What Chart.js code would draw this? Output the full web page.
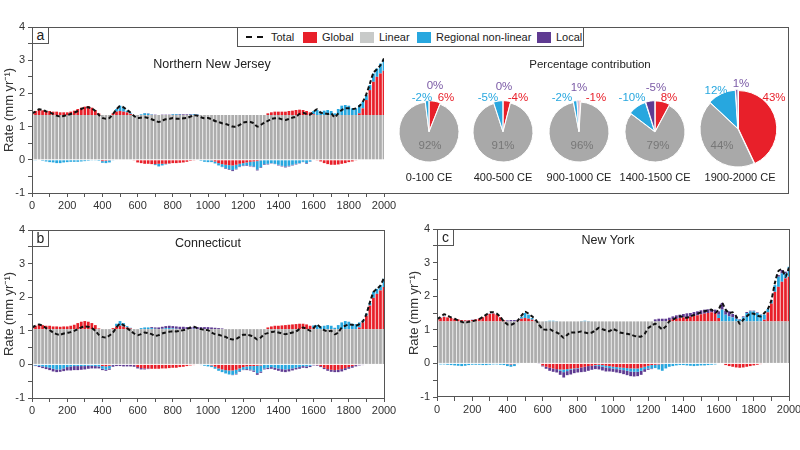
<!DOCTYPE html>
<html><head><meta charset="utf-8">
<script src="https://cdn.jsdelivr.net/npm/chart.js@4.4.1/dist/chart.umd.min.js"></script>
<style>
body{margin:0;background:#fff;width:800px;height:450px;overflow:hidden;position:relative;font-family:"Liberation Sans",Arial,sans-serif;color:#222}
canvas{position:absolute}
.frame{position:absolute;border:1px solid #555;box-sizing:border-box;pointer-events:none}
.tag{position:absolute;border:1px solid #555;background:#fff;width:17px;height:17px;box-sizing:border-box;font-size:14px;line-height:14px;text-align:center}
.t{position:absolute;transform:translate(-50%,-50%);white-space:nowrap}
.sq{position:absolute;width:14px;height:11px;top:4px}
.lt{position:absolute;top:3px;font-size:11px;line-height:13px}
</style></head><body>

<canvas id="ca" width="400" height="222" style="left:0;top:0"></canvas>
<canvas id="cb" width="400" height="230" style="left:0;top:200px"></canvas>
<canvas id="cc" width="400" height="230" style="left:405px;top:200px"></canvas>

<div class="frame" style="left:32px;top:27px;width:757px;height:167px"></div>
<div class="frame" style="left:32px;top:230px;width:353px;height:169px"></div>
<div class="frame" style="left:437px;top:229px;width:353px;height:168px"></div>

<div class="tag" style="left:32px;top:27px">a</div>
<div class="tag" style="left:32px;top:230px">b</div>
<div class="tag" style="left:437px;top:229px">c</div>

<div style="position:absolute;left:237px;top:27px;width:347px;height:20px;border:1px solid #555;box-sizing:border-box;background:#fff">
  <div style="position:absolute;left:8px;top:8px;width:17px;border-top:2px dashed #111"></div>
  <div class="lt" style="left:33px">Total</div>
  <div class="sq" style="left:65px;background:#e8202a"></div>
  <div class="lt" style="left:84px">Global</div>
  <div class="sq" style="left:122px;background:#c8cac9"></div>
  <div class="lt" style="left:141px">Linear</div>
  <div class="sq" style="left:179px;background:#27a7df"></div>
  <div class="lt" style="left:198px">Regional non-linear</div>
  <div class="sq" style="left:299px;background:#5f3b92"></div>
  <div class="lt" style="left:318px">Local</div>
</div>

<div class="t" style="left:212px;top:64px;font-size:12.5px">Northern New Jersey</div>
<div class="t" style="left:208px;top:243px;font-size:12.5px">Connecticut</div>
<div class="t" style="left:608px;top:240px;font-size:12.5px">New York</div>
<div class="t" style="left:590px;top:64px;font-size:11.5px">Percentage contribution</div>

<div id="pies"></div>

<script>
// ---------- DATA ----------
const years = [0,20,40,60,80,100,120,140,160,180,200,220,240,260,280,300,320,340,360,380,400,420,440,460,480,500,520,540,560,580,600,620,640,660,680,700,720,740,760,780,800,820,840,860,880,900,920,940,960,980,1000,1020,1040,1060,1080,1100,1120,1140,1160,1180,1200,1220,1240,1260,1280,1300,1320,1340,1360,1380,1400,1420,1440,1460,1480,1500,1520,1540,1560,1580,1600,1620,1640,1660,1680,1700,1720,1740,1760,1780,1800,1820,1840,1860,1880,1900,1920,1940,1960,1980,2000];

// Panel a: Northern New Jersey
const linearNNJ = 1.35;
const globalNNJ = [0.10,0.12,0.15,0.14,0.12,0.12,0.10,0.10,0.08,0.08,
  0.08,0.10,0.13,0.18,0.22,0.25,0.27,0.22,0.15,0.05,
  -0.04,-0.03,-0.02,0.05,0.10,0.12,0.10,0.08,0.03,-0.02,
  -0.08,-0.10,-0.12,-0.12,-0.13,-0.13,-0.12,-0.12,-0.12,-0.11,
  -0.10,-0.10,-0.09,-0.08,-0.06,-0.03,-0.01,0.00,0.00,0.00,
  0.00,-0.02,-0.05,-0.10,-0.13,-0.15,-0.16,-0.17,-0.15,-0.12,
  -0.10,-0.08,-0.06,-0.05,-0.04,-0.02,0.00,0.05,0.08,0.10,
  0.10,0.10,0.10,0.12,0.13,0.15,0.16,0.15,0.12,0.08,
  0.02,-0.02,-0.05,-0.10,-0.13,-0.15,-0.15,-0.14,-0.12,-0.10,
  -0.07,-0.05,-0.02,0.05,0.20,0.45,0.75,1.00,1.15,1.25,1.33];
const regionalNNJ = [-0.02,-0.02,0.00,-0.03,-0.05,-0.07,-0.08,-0.10,-0.10,-0.08,
  -0.07,-0.06,-0.06,-0.06,-0.05,-0.04,-0.03,-0.02,-0.02,-0.03,
  -0.05,-0.07,-0.06,-0.02,0.08,0.16,0.12,0.05,0.02,0.00,
  0.00,0.02,0.05,0.04,0.01,-0.03,-0.08,-0.05,-0.02,-0.01,
  0.02,0.02,0.01,0.00,0.00,0.01,0.02,0.01,-0.03,-0.06,
  -0.07,-0.05,-0.06,-0.07,-0.08,-0.10,-0.12,-0.14,-0.12,-0.08,
  -0.07,-0.08,-0.12,-0.15,-0.25,-0.20,-0.13,-0.12,-0.10,-0.12,
  -0.15,-0.18,-0.20,-0.18,-0.15,-0.12,-0.10,-0.06,-0.10,-0.05,
  0.10,0.15,0.10,0.13,0.15,0.12,0.05,0.18,0.28,0.30,
  0.28,0.20,0.20,0.25,0.20,0.15,0.15,0.25,0.25,0.30,0.35];
const localNNJ = [0,0,0,0,0,0,0,0,0,0,
  0,0,0,0,0,0,0,0,0,0,
  0,0,0,0,0,0,0,0,0,0,
  0,0,0.01,0.01,0.01,0.01,0,0.01,0.01,0.01,
  0.01,0.01,0.02,0.02,0.02,0.02,0.01,0.01,0,0,
  0,0,0,0,-0.01,-0.02,-0.02,-0.03,-0.02,-0.02,
  -0.02,-0.02,-0.02,-0.02,-0.03,-0.02,-0.02,-0.02,-0.01,-0.01,
  -0.02,-0.02,-0.03,-0.02,-0.02,-0.02,-0.01,-0.01,-0.02,-0.01,
  0,0,0,0,0,0,0,0,0,0,
  0,0,0,0,0,0,0,0,0,0,0];
const totalNNJ = [1.40,1.45,1.52,1.50,1.46,1.43,1.38,1.33,1.30,1.32,
  1.35,1.38,1.42,1.47,1.53,1.57,1.58,1.54,1.47,1.35,
  1.26,1.24,1.26,1.38,1.52,1.62,1.58,1.50,1.42,1.32,
  1.26,1.27,1.28,1.26,1.22,1.18,1.14,1.18,1.22,1.23,
  1.26,1.24,1.24,1.25,1.26,1.30,1.34,1.33,1.28,1.25,
  1.26,1.22,1.17,1.14,1.10,1.08,1.04,1.00,1.00,1.05,
  1.12,1.14,1.14,1.10,1.00,1.05,1.12,1.17,1.23,1.25,
  1.25,1.22,1.20,1.23,1.27,1.30,1.38,1.42,1.38,1.36,
  1.45,1.52,1.42,1.40,1.38,1.40,1.28,1.40,1.50,1.55,
  1.55,1.53,1.55,1.62,1.75,1.98,2.30,2.62,2.73,2.85,3.05];

// Panel b: Connecticut
const linearCT = 1.05;
const globalCT = [0.08,0.10,0.14,0.12,0.10,0.10,0.08,0.08,0.07,0.08,
  0.08,0.10,0.13,0.18,0.22,0.24,0.22,0.18,0.12,0.02,
  -0.05,-0.06,-0.04,0.03,0.08,0.10,0.08,0.05,0.02,-0.02,
  -0.08,-0.11,-0.12,-0.12,-0.13,-0.13,-0.13,-0.12,-0.12,-0.11,
  -0.10,-0.10,-0.08,-0.07,-0.05,-0.03,-0.02,0.00,0.00,0.00,
  0.00,-0.03,-0.07,-0.12,-0.15,-0.17,-0.18,-0.18,-0.16,-0.12,
  -0.08,-0.06,-0.05,-0.05,-0.04,-0.03,0.00,0.05,0.08,0.10,
  0.10,0.11,0.12,0.13,0.14,0.15,0.16,0.16,0.14,0.10,
  0.03,-0.02,-0.05,-0.10,-0.14,-0.16,-0.17,-0.16,-0.14,-0.11,
  -0.08,-0.05,-0.02,0.05,0.20,0.40,0.70,0.93,1.05,1.15,1.25];
const regionalCT = [-0.03,-0.03,-0.04,-0.06,-0.08,-0.10,-0.13,-0.15,-0.15,-0.12,
  -0.08,-0.06,-0.05,-0.05,-0.05,-0.05,-0.04,-0.04,-0.05,-0.06,
  -0.08,-0.10,-0.08,-0.02,0.08,0.14,0.10,0.04,0.02,0.00,
  0.00,0.03,0.05,0.05,0.03,0.01,0.00,0.01,0.03,0.03,
  0.02,0.01,0.00,0.00,0.00,0.00,0.01,0.00,-0.02,-0.04,
  -0.06,-0.05,-0.06,-0.07,-0.08,-0.10,-0.12,-0.13,-0.12,-0.08,
  -0.07,-0.08,-0.10,-0.13,-0.22,-0.18,-0.12,-0.10,-0.08,-0.10,
  -0.12,-0.14,-0.15,-0.14,-0.12,-0.10,-0.08,-0.05,-0.06,-0.04,
  0.08,0.12,0.08,0.10,0.12,0.10,0.04,0.12,0.20,0.24,
  0.22,0.16,0.15,0.15,0.06,0.06,0.08,0.18,0.15,0.15,0.25];
const localCT = [-0.01,-0.02,-0.04,-0.05,-0.06,-0.07,-0.08,-0.08,-0.07,-0.08,
  -0.10,-0.12,-0.12,-0.12,-0.11,-0.10,-0.09,-0.08,-0.07,-0.06,
  -0.04,-0.03,-0.04,-0.05,-0.05,-0.05,-0.06,-0.06,-0.06,-0.05,
  -0.04,-0.04,-0.03,-0.02,0.03,0.04,0.05,0.06,0.06,0.07,
  0.07,0.07,0.07,0.07,0.06,0.06,0.06,0.06,0.06,0.06,
  0.06,0.05,0.04,0.03,0.02,0.00,0.00,-0.01,-0.02,-0.02,
  -0.02,-0.03,-0.03,-0.04,-0.05,-0.04,-0.03,-0.04,-0.05,-0.06,
  -0.07,-0.08,-0.08,-0.07,-0.06,-0.05,-0.05,-0.05,-0.05,-0.04,
  -0.03,-0.02,-0.03,-0.04,-0.05,-0.06,-0.06,-0.07,-0.07,-0.06,
  -0.05,-0.05,-0.04,-0.03,-0.02,0,0,0,0,0,0];
const totalCT = [1.10,1.15,1.19,1.15,1.08,1.02,0.95,0.90,0.88,0.92,
  0.94,0.96,1.00,1.05,1.10,1.13,1.12,1.08,1.00,0.88,
  0.82,0.80,0.86,0.95,1.10,1.21,1.17,1.08,1.00,0.92,
  0.87,0.90,0.95,0.93,0.90,0.85,0.87,0.92,0.95,0.97,
  0.99,0.98,1.00,1.02,1.05,1.10,1.12,1.08,1.05,1.03,
  1.02,0.95,0.90,0.88,0.85,0.82,0.76,0.74,0.76,0.82,
  0.88,0.88,0.86,0.82,0.74,0.80,0.90,0.93,0.96,0.98,
  0.95,0.92,0.90,0.92,0.95,0.98,1.05,1.10,1.06,1.00,
  1.08,1.18,1.10,1.02,0.98,1.00,0.90,0.95,1.10,1.15,
  1.19,1.18,1.15,1.20,1.28,1.50,1.85,2.15,2.25,2.35,2.58];

// Panel c: New York
const linearNY = 1.25;
const globalNY = [0.08,0.10,0.13,0.12,0.10,0.08,0.06,0.04,0.03,0.03,
  0.04,0.06,0.08,0.12,0.18,0.22,0.23,0.20,0.12,0.03,
  -0.02,-0.03,-0.02,0.03,0.08,0.10,0.08,0.05,0.02,0.00,
  -0.06,-0.10,-0.13,-0.15,-0.17,-0.18,-0.18,-0.17,-0.16,-0.15,
  -0.14,-0.12,-0.10,-0.08,-0.07,-0.05,-0.04,-0.05,-0.07,-0.08,
  -0.10,-0.11,-0.12,-0.13,-0.14,-0.15,-0.15,-0.15,-0.13,-0.10,
  -0.07,-0.05,-0.04,-0.03,-0.02,0.00,0.03,0.06,0.08,0.10,
  0.12,0.13,0.14,0.16,0.18,0.21,0.23,0.25,0.27,0.25,
  0.10,0.00,-0.05,-0.08,-0.10,-0.12,-0.13,-0.12,-0.10,-0.08,
  -0.06,-0.04,-0.02,0.05,0.27,0.53,0.88,1.03,1.18,1.28,1.33];
const regionalNY = [-0.02,-0.03,-0.03,-0.04,-0.05,-0.06,-0.07,-0.08,-0.07,-0.05,
  -0.04,-0.04,-0.04,-0.05,-0.05,-0.04,-0.03,-0.03,-0.04,-0.05,
  -0.06,-0.07,-0.06,-0.02,0.06,0.15,0.12,0.05,0.02,0.00,
  0.00,0.01,0.02,0.02,0.01,-0.04,-0.08,-0.06,-0.03,-0.02,
  -0.01,0.01,0.02,0.01,0.00,-0.02,-0.04,-0.05,-0.05,-0.06,
  -0.05,-0.06,-0.06,-0.07,-0.08,-0.09,-0.10,-0.10,-0.09,-0.07,
  -0.08,-0.10,-0.10,-0.15,-0.20,-0.15,-0.10,-0.08,-0.06,-0.05,
  -0.05,-0.06,-0.07,-0.08,-0.07,-0.06,-0.06,-0.05,-0.04,-0.03,
  0.10,0.35,0.20,0.15,0.12,0.08,0.05,0.12,0.25,0.30,
  0.30,0.25,0.20,0.15,0.10,0.10,0.20,0.30,0.25,0.15,0.30];
const localNY = [0.01,0.01,0.01,0,0,0,0,0,0.01,0.01,
  0.01,0.01,0.01,0.01,0.01,0.01,0.01,0.01,0.01,0.01,
  0.03,0.04,0.04,0.02,0,0,0,0,0,-0.01,
  -0.03,-0.06,-0.09,-0.10,-0.10,-0.12,-0.16,-0.12,-0.14,-0.12,
  -0.12,-0.14,-0.15,-0.14,-0.12,-0.10,-0.10,-0.11,-0.12,-0.10,
  -0.10,-0.10,-0.11,-0.12,-0.13,-0.14,-0.14,-0.13,-0.12,-0.08,
  -0.04,-0.02,0.06,0.08,0.08,0.08,0.08,0.09,0.10,0.10,
  0.10,0.11,0.11,0.12,0.12,0.12,0.12,0.11,0.10,0.10,
  0.10,0.20,0.12,0.15,0.10,0.05,0.02,0.03,0.03,0.02,
  0.02,0.02,0.01,0,0,0,0,0.05,0.10,0.05,0];
const totalNY = [1.32,1.38,1.46,1.42,1.37,1.33,1.28,1.24,1.21,1.24,
  1.26,1.28,1.32,1.38,1.45,1.52,1.52,1.48,1.38,1.25,
  1.16,1.15,1.20,1.28,1.42,1.54,1.48,1.40,1.30,1.15,
  1.02,1.00,1.02,0.96,0.92,0.86,0.76,0.85,0.92,0.92,
  0.93,0.95,0.92,0.90,0.92,0.98,1.06,1.02,0.98,0.96,
  1.02,0.98,0.92,0.90,0.88,0.86,0.82,0.80,0.80,0.88,
  1.05,1.12,1.18,1.10,1.02,1.10,1.25,1.30,1.36,1.40,
  1.38,1.36,1.40,1.44,1.48,1.52,1.55,1.58,1.60,1.50,
  1.60,1.80,1.60,1.50,1.52,1.40,1.18,1.30,1.40,1.48,
  1.48,1.42,1.40,1.50,1.62,1.88,2.40,2.75,2.80,2.58,2.85];

// Pie charts: percentage contribution (panel a)
const pieLabels   = ['0-100 CE','400-500 CE','900-1000 CE','1400-1500 CE','1900-2000 CE'];
const pieGlobal   = [6,-4,-1,8,43];
const pieLinear   = [92,91,96,79,44];
const pieRegional = [-2,-5,-2,-10,12];
const pieLocal    = [0,0,1,-5,1];

// ---------- STYLE ----------
const C = {red:'#e8202a', grey:'#adadad', blue:'#27a7df', purple:'#5f3b92'};
Chart.defaults.font.family = '"Liberation Sans", Arial, sans-serif';
Chart.defaults.color = '#333';
Chart.defaults.animation = false;

function panel(id, linear, glob, reg, loc, tot, pad, xh) {
  const bar = (label, data, color) => ({type:'bar', label, data, backgroundColor:color, stack:'s', order:1,
    barPercentage:0.78, categoryPercentage:1, borderWidth:0});
  return new Chart(document.getElementById(id), {
    type:'bar',
    data:{
      labels: years,
      datasets:[
        {type:'line', label:'Total', data:tot, borderColor:'#111', borderWidth:2, borderDash:[4,2.5],
         pointRadius:0, fill:false, stack:'total', order:0, tension:0.2},
        bar('Linear', years.map(() => linear), C.grey),
        bar('Global', glob, C.red),
        bar('Regional non-linear', reg, C.blue),
        bar('Local', loc, C.purple)
      ]
    },
    options:{
      responsive:false, devicePixelRatio:1,
      layout:{padding:pad},
      plugins:{legend:{display:false}, tooltip:{enabled:false}},
      scales:{
        x:{type:'linear', min:0, max:2000, offset:false,
           border:{display:false},
           grid:{drawOnChartArea:false, drawTicks:true, tickLength:4, color:'#555', offset:false},
           ticks:{stepSize:100, autoSkip:false, maxRotation:0, padding:2, font:{size:11},
                  callback:v => (v % 200 === 0 ? v : '')},
           afterFit:s => { s.height = xh; }},
        y:{stacked:true, min:-1, max:4,
           border:{display:false},
           grid:{drawOnChartArea:false, drawTicks:true, tickLength:4, color:'#555'},
           ticks:{stepSize:0.5, autoSkip:false, padding:3, font:{size:11},
                  callback:v => (Number.isInteger(v) ? v : '')},
           title:{display:true, text:'Rate (mm yr\u207B\u00B9)', font:{size:13}, color:'#333', padding:{top:2,bottom:0}},
           afterFit:s => { s.width = 32; }}
      }
    }
  });
}

panel('ca', linearNNJ, globalNNJ, regionalNNJ, localNNJ, totalNNJ, {left:0, top:27, right:16, bottom:0}, 29);
panel('cb', linearCT, globalCT, regionalCT, localCT, totalCT, {left:0, top:30, right:16, bottom:0}, 32);
panel('cc', linearNY, globalNY, regionalNY, localNY, totalNY, {left:0, top:29, right:16, bottom:0}, 33);

// pies
const pieGeom = [
  {cx:429, cy:132, r:30, off:[3,0,3,3]},
  {cx:503, cy:132, r:30, off:[3,0,3,3]},
  {cx:579, cy:132, r:30, off:[3,0,3,3]},
  {cx:655, cy:132, r:30, off:[3,0,3,3]},
  {cx:738, cy:129, r:38, off:[2,0,3,3]}
];
const labelPos = [
  {g:[446,97], l:[430,145], r:[422,97], o:[435,85]},
  {g:[518,97], l:[503,145], r:[488,97], o:[504,86]},
  {g:[596,97], l:[582,145], r:[562,97], o:[579,87]},
  {g:[669,97], l:[658,145], r:[632,97], o:[656,87]},
  {g:[774,97], l:[722,145], r:[716,90], o:[741,83]}
];
const host = document.getElementById('pies');
function txt(x, y, s, color, size) {
  const d = document.createElement('div');
  d.className = 't'; d.textContent = s;
  d.style.left = x + 'px'; d.style.top = y + 'px'; d.style.color = color; d.style.fontSize = size + 'px';
  host.appendChild(d);
}
pieLabels.forEach((lab, i) => {
  const g = pieGeom[i];
  const cv = document.createElement('canvas');
  cv.width = 100; cv.height = 100;
  cv.style.left = (g.cx - 50) + 'px'; cv.style.top = (g.cy - 50) + 'px';
  host.appendChild(cv);
  new Chart(cv, {
    type:'pie',
    data:{labels:['Global','Linear','Regional non-linear','Local'],
      datasets:[{data:[pieGlobal[i], pieLinear[i], pieRegional[i], pieLocal[i]].map(Math.abs),
        backgroundColor:[C.red, '#a9a9a9', C.blue, C.purple],
        borderColor:'#fff', borderWidth:1, offset:g.off}]},
    options:{responsive:false, devicePixelRatio:1, radius:g.r, layout:{padding:0},
      plugins:{legend:{display:false}, tooltip:{enabled:false}}}
  });
  const p = labelPos[i];
  txt(p.g[0], p.g[1], pieGlobal[i] + '%', C.red, 11.5);
  txt(p.r[0], p.r[1], pieRegional[i] + '%', C.blue, 11.5);
  txt(p.o[0], p.o[1], pieLocal[i] + '%', '#7b5aa6', 11.5);
  txt(p.l[0], p.l[1], pieLinear[i] + '%', '#777', 11.5);
  txt(g.cx + (i === 4 ? 2 : 0), 177, lab, '#222', 11);
});
</script>
</body></html>
